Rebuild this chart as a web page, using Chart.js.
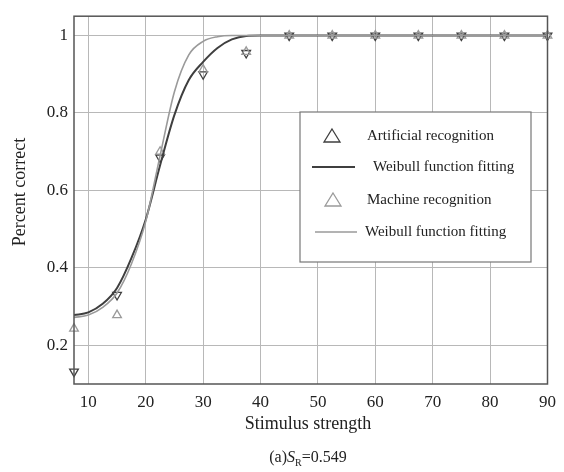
<!DOCTYPE html>
<html>
<head>
<meta charset="utf-8">
<script src="https://cdn.jsdelivr.net/npm/chart.js@4.4.1/dist/chart.umd.min.js"></script>
<style>
  html, body { margin: 0; padding: 0; background: #fff; }
  #wrap { width: 564px; height: 472px; position: relative; }
</style>
</head>
<body>
<div id="wrap"><canvas id="chart" width="564" height="472"></canvas></div>
<script>
// ----- DATA -----
const stimulus = [7.5, 15, 22.5, 30, 37.5, 45, 52.5, 60, 67.5, 75, 82.5, 90];
const artificial = [0.132, 0.33, 0.685, 0.90, 0.955, 1, 1, 1, 1, 1, 1, 1];
const machine = [0.243, 0.278, 0.70, 0.912, 0.958, 1, 1, 1, 1, 1, 1, 1];

// fitted curves
const fitX = [7.5, 10, 12.5, 15, 17.5, 20, 22.5, 25, 27.5, 30, 32.5, 35, 37.5, 40, 90];
const artificialFit = [0.278, 0.285, 0.307, 0.348, 0.425, 0.525, 0.665, 0.795, 0.885, 0.932, 0.968, 0.99, 0.999, 1, 1];
const machineFit = [0.272, 0.278, 0.298, 0.335, 0.41, 0.52, 0.69, 0.855, 0.95, 0.985, 0.997, 1, 1, 1, 1];

const xTicks = [10, 20, 30, 40, 50, 60, 70, 80, 90];
const yTicks = [0.2, 0.4, 0.6, 0.8, 1];

const DARK = '#3f3f3f';
const LIGHT = '#9a9a9a';
const SERIF = '"Liberation Serif", "DejaVu Serif", serif';

const pts = (xs, ys) => xs.map((x, i) => ({ x: x, y: ys[i] }));

// ----- FRAME, LEGEND, TITLES -----
const decorPlugin = {
  id: 'decor',
  afterDraw(chart) {
    const { ctx, chartArea: a } = chart;
    ctx.save();
    // plot frame
    ctx.strokeStyle = '#555';
    ctx.lineWidth = 1.5;
    ctx.strokeRect(a.left, a.top, a.right - a.left, a.bottom - a.top);

    // legend box
    const lx = 300, ly = 112, lw = 231, lh = 150;
    ctx.fillStyle = '#fff';
    ctx.fillRect(lx, ly, lw, lh);
    ctx.strokeStyle = '#777';
    ctx.lineWidth = 1.2;
    ctx.strokeRect(lx, ly, lw, lh);

    ctx.font = '15px ' + SERIF;
    ctx.fillStyle = '#222';
    ctx.textBaseline = 'middle';
    ctx.textAlign = 'left';

    const tri = (cx, cy, color) => {
      ctx.beginPath();
      ctx.moveTo(cx, cy - 7);
      ctx.lineTo(cx + 8, cy + 6);
      ctx.lineTo(cx - 8, cy + 6);
      ctx.closePath();
      ctx.strokeStyle = color;
      ctx.lineWidth = 1.3;
      ctx.stroke();
    };
    const seg = (x1, x2, y, color, w) => {
      ctx.beginPath();
      ctx.moveTo(x1, y);
      ctx.lineTo(x2, y);
      ctx.strokeStyle = color;
      ctx.lineWidth = w;
      ctx.stroke();
    };

    tri(332, 136, DARK);
    ctx.fillText('Artificial recognition', 367, 136);
    seg(312, 355, 167, DARK, 2);
    ctx.fillText('Weibull function fitting', 373, 167);
    tri(333, 200, LIGHT);
    ctx.fillText('Machine recognition', 367, 200);
    seg(315, 357, 232, LIGHT, 1.5);
    ctx.fillText('Weibull function fitting', 365, 232);

    // axis titles
    ctx.font = '18px ' + SERIF;
    ctx.textAlign = 'center';
    ctx.fillText('Stimulus strength', 308, 424);

    ctx.save();
    ctx.translate(20, 192);
    ctx.rotate(-Math.PI / 2);
    ctx.fillText('Percent correct', 0, 0);
    ctx.restore();

    // caption (a)S_R=0.549
    ctx.textAlign = 'left';
    ctx.font = '16px ' + SERIF;
    const parts = ['(a)', 'S', 'R', '=0.549'];
    const w0 = ctx.measureText(parts[0]).width;
    ctx.font = 'italic 16px ' + SERIF;
    const w1 = ctx.measureText(parts[1]).width;
    ctx.font = '10px ' + SERIF;
    const w2 = ctx.measureText(parts[2]).width;
    ctx.font = '16px ' + SERIF;
    const w3 = ctx.measureText(parts[3]).width;
    let cx = 308 - (w0 + w1 + w2 + w3) / 2;
    const cy = 458;
    ctx.fillText(parts[0], cx, cy); cx += w0;
    ctx.font = 'italic 16px ' + SERIF;
    ctx.fillText(parts[1], cx, cy); cx += w1;
    ctx.font = '10px ' + SERIF;
    ctx.fillText(parts[2], cx, cy + 5); cx += w2;
    ctx.font = '16px ' + SERIF;
    ctx.fillText(parts[3], cx, cy);
    ctx.restore();
  }
};

new Chart(document.getElementById('chart').getContext('2d'), {
  type: 'scatter',
  data: {
    datasets: [
      {
        label: 'Weibull function fitting (machine)',
        data: pts(fitX, machineFit),
        showLine: true,
        borderColor: LIGHT,
        borderWidth: 1.6,
        pointRadius: 0,
        cubicInterpolationMode: 'monotone',
        fill: false
      },
      {
        label: 'Weibull function fitting (artificial)',
        data: pts(fitX, artificialFit),
        showLine: true,
        borderColor: DARK,
        borderWidth: 2,
        pointRadius: 0,
        cubicInterpolationMode: 'monotone',
        fill: false
      },
      {
        label: 'Machine recognition',
        data: pts(stimulus, machine),
        pointStyle: 'triangle',
        pointRadius: 5,
        borderColor: LIGHT,
        backgroundColor: 'rgba(0,0,0,0)',
        borderWidth: 1.3,
        clip: false
      },
      {
        label: 'Artificial recognition',
        data: pts(stimulus, artificial),
        pointStyle: 'triangle',
        rotation: 180,
        pointRadius: 5,
        borderColor: DARK,
        backgroundColor: 'rgba(0,0,0,0)',
        borderWidth: 1.3,
        clip: false
      }
    ]
  },
  options: {
    responsive: false,
    animation: false,
    layout: { padding: { left: 0, right: 15, top: 8, bottom: 0 } },
    plugins: {
      legend: { display: false },
      tooltip: { enabled: false }
    },
    scales: {
      x: {
        type: 'linear',
        min: 7.5,
        max: 90,
        afterBuildTicks: (s) => { s.ticks = xTicks.map(v => ({ value: v })); },
        afterFit: (s) => { s.height = 88; },
        grid: { color: '#b8b8b8', lineWidth: 1, drawTicks: false },
        border: { display: false },
        ticks: {
          padding: 8,
          color: '#222',
          font: { family: SERIF, size: 17 },
          maxRotation: 0
        }
      },
      y: {
        type: 'linear',
        min: 0.1,
        max: 1.05,
        afterBuildTicks: (s) => { s.ticks = yTicks.map(v => ({ value: v })); },
        afterFit: (s) => { s.width = 74; },
        grid: { color: '#b8b8b8', lineWidth: 1, drawTicks: false },
        border: { display: false },
        ticks: {
          padding: 6,
          color: '#222',
          font: { family: SERIF, size: 17 },
          callback: (v) => String(Math.round(v * 10) / 10)
        }
      }
    }
  },
  plugins: [decorPlugin]
});
</script>
</body>
</html>
